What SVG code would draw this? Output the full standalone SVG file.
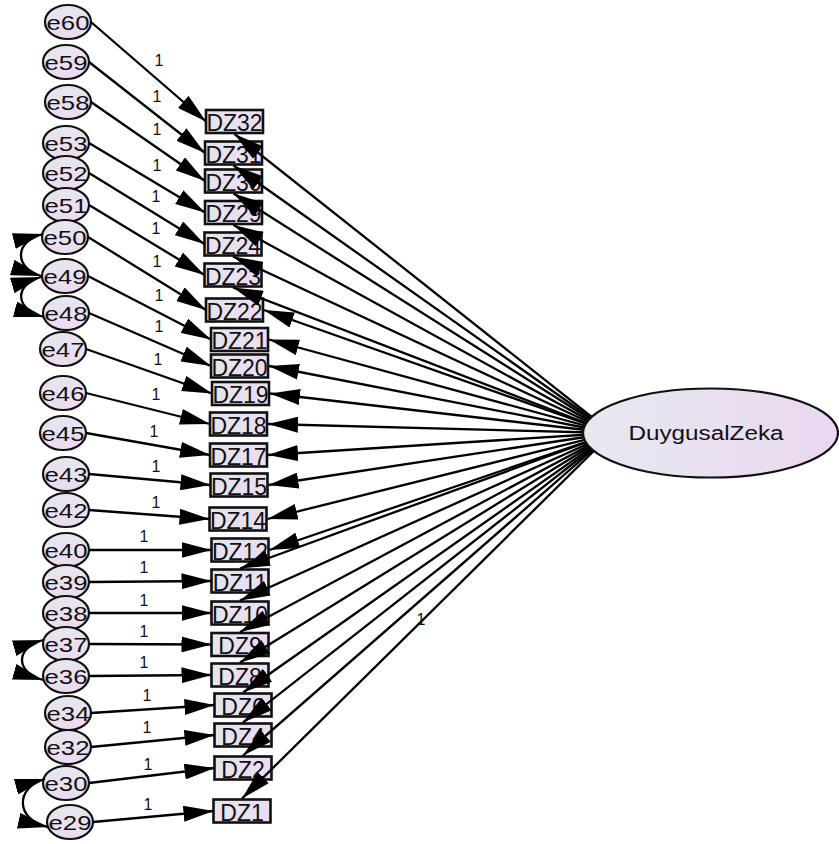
<svg xmlns="http://www.w3.org/2000/svg" width="839" height="844" viewBox="0 0 839 844">
  <defs>
    <linearGradient id="gErr" x1="0" y1="0" x2="0" y2="1">
      <stop offset="0" stop-color="#e6e6ee"/>
      <stop offset="1" stop-color="#ecdaf0"/>
    </linearGradient>
    <linearGradient id="gBox" x1="0" y1="0" x2="1" y2="0">
      <stop offset="0" stop-color="#e4e4ee"/>
      <stop offset="1" stop-color="#ecdcf2"/>
    </linearGradient>
    <linearGradient id="gLat" x1="0" y1="0" x2="1" y2="0">
      <stop offset="0" stop-color="#e8e8f0"/>
      <stop offset="1" stop-color="#ead8f0"/>
    </linearGradient>
    <marker id="arr" markerUnits="userSpaceOnUse" markerWidth="30" markerHeight="16" refX="30" refY="8" orient="auto-start-reverse">
      <path d="M0,0 L30,8 L0,16 z" fill="#000"/>
    </marker>
    <style>
      .err ellipse { fill: url(#gErr); stroke: #111; stroke-width: 2.2; }
      .err text { font-family: "Liberation Sans", Arial, sans-serif; font-size: 21px; fill: #111; text-anchor: middle; }
      .obs rect { fill: url(#gBox); stroke: #111; stroke-width: 2.6; }
      .obs text { font-family: "Liberation Sans", Arial, sans-serif; font-size: 23px; fill: #111; text-anchor: middle; }
      .lat ellipse { fill: url(#gLat); stroke: #111; stroke-width: 2.2; }
      .lat text { font-family: "Liberation Sans", Arial, sans-serif; font-size: 20px; fill: #111; text-anchor: middle; }
      .conn line, .conn path { stroke: #000; stroke-width: 2.3; fill: none; marker-end: url(#arr); }
      .conn path.cov { marker-start: url(#arr); }
      #weights text { font-family: "Liberation Sans", Arial, sans-serif; font-size: 16px; fill: #111; text-anchor: middle; }
    </style>
  </defs>
  <rect width="839" height="844" fill="#fff"/>

  <!-- error terms -->
  <g id="e60" class="err"><ellipse cx="68" cy="22" rx="23" ry="17"/><text x="68" y="29.5" textLength="43" lengthAdjust="spacingAndGlyphs">e60</text></g>
  <g id="e59" class="err"><ellipse cx="66" cy="62" rx="23" ry="17"/><text x="66" y="69.5" textLength="43" lengthAdjust="spacingAndGlyphs">e59</text></g>
  <g id="e58" class="err"><ellipse cx="68" cy="102" rx="23" ry="17"/><text x="68" y="109.5" textLength="43" lengthAdjust="spacingAndGlyphs">e58</text></g>
  <g id="e53" class="err"><ellipse cx="66" cy="143" rx="23" ry="17"/><text x="66" y="150.5" textLength="43" lengthAdjust="spacingAndGlyphs">e53</text></g>
  <g id="e52" class="err"><ellipse cx="66" cy="173" rx="23" ry="17"/><text x="66" y="180.5" textLength="43" lengthAdjust="spacingAndGlyphs">e52</text></g>
  <g id="e51" class="err"><ellipse cx="66" cy="205" rx="23" ry="17"/><text x="66" y="212.5" textLength="43" lengthAdjust="spacingAndGlyphs">e51</text></g>
  <g id="e50" class="err"><ellipse cx="65" cy="237" rx="23" ry="17"/><text x="65" y="244.5" textLength="43" lengthAdjust="spacingAndGlyphs">e50</text></g>
  <g id="e49" class="err"><ellipse cx="65" cy="276" rx="23" ry="17"/><text x="65" y="283.5" textLength="43" lengthAdjust="spacingAndGlyphs">e49</text></g>
  <g id="e48" class="err"><ellipse cx="66" cy="313" rx="23" ry="17"/><text x="66" y="320.5" textLength="43" lengthAdjust="spacingAndGlyphs">e48</text></g>
  <g id="e47" class="err"><ellipse cx="63" cy="349" rx="23" ry="17"/><text x="63" y="356.5" textLength="43" lengthAdjust="spacingAndGlyphs">e47</text></g>
  <g id="e46" class="err"><ellipse cx="63" cy="393" rx="23" ry="17"/><text x="63" y="400.5" textLength="43" lengthAdjust="spacingAndGlyphs">e46</text></g>
  <g id="e45" class="err"><ellipse cx="63" cy="433" rx="23" ry="17"/><text x="63" y="440.5" textLength="43" lengthAdjust="spacingAndGlyphs">e45</text></g>
  <g id="e43" class="err"><ellipse cx="66" cy="474" rx="23" ry="17"/><text x="66" y="481.5" textLength="43" lengthAdjust="spacingAndGlyphs">e43</text></g>
  <g id="e42" class="err"><ellipse cx="66" cy="510" rx="23" ry="17"/><text x="66" y="517.5" textLength="43" lengthAdjust="spacingAndGlyphs">e42</text></g>
  <g id="e40" class="err"><ellipse cx="66" cy="550" rx="23" ry="17"/><text x="66" y="557.5" textLength="43" lengthAdjust="spacingAndGlyphs">e40</text></g>
  <g id="e39" class="err"><ellipse cx="66" cy="582" rx="23" ry="17"/><text x="66" y="589.5" textLength="43" lengthAdjust="spacingAndGlyphs">e39</text></g>
  <g id="e38" class="err"><ellipse cx="66" cy="613" rx="23" ry="17"/><text x="66" y="620.5" textLength="43" lengthAdjust="spacingAndGlyphs">e38</text></g>
  <g id="e37" class="err"><ellipse cx="66" cy="644" rx="23" ry="17"/><text x="66" y="651.5" textLength="43" lengthAdjust="spacingAndGlyphs">e37</text></g>
  <g id="e36" class="err"><ellipse cx="66" cy="676" rx="23" ry="17"/><text x="66" y="683.5" textLength="43" lengthAdjust="spacingAndGlyphs">e36</text></g>
  <g id="e34" class="err"><ellipse cx="68" cy="713" rx="23" ry="17"/><text x="68" y="720.5" textLength="43" lengthAdjust="spacingAndGlyphs">e34</text></g>
  <g id="e32" class="err"><ellipse cx="68" cy="747" rx="23" ry="17"/><text x="68" y="754.5" textLength="43" lengthAdjust="spacingAndGlyphs">e32</text></g>
  <g id="e30" class="err"><ellipse cx="66" cy="783" rx="23" ry="17"/><text x="66" y="790.5" textLength="43" lengthAdjust="spacingAndGlyphs">e30</text></g>
  <g id="e29" class="err"><ellipse cx="70" cy="822" rx="23" ry="17"/><text x="70" y="829.5" textLength="43" lengthAdjust="spacingAndGlyphs">e29</text></g>

  <!-- observed items -->
  <g id="DZ32" class="obs"><rect x="206" y="110" width="57" height="23"/><text x="234.5" y="131">DZ32</text></g>
  <g id="DZ31" class="obs"><rect x="205" y="141.5" width="57" height="23"/><text x="233.5" y="162.5">DZ31</text></g>
  <g id="DZ30" class="obs"><rect x="205" y="169.5" width="57" height="23"/><text x="233.5" y="190.5">DZ30</text></g>
  <g id="DZ29" class="obs"><rect x="205" y="201" width="57" height="23"/><text x="233.5" y="222">DZ29</text></g>
  <g id="DZ24" class="obs"><rect x="204.5" y="232.5" width="57" height="23"/><text x="233" y="253.5">DZ24</text></g>
  <g id="DZ23" class="obs"><rect x="204.5" y="263.5" width="57" height="23"/><text x="233" y="284.5">DZ23</text></g>
  <g id="DZ22" class="obs"><rect x="206" y="298.5" width="57" height="23"/><text x="234.5" y="319.5">DZ22</text></g>
  <g id="DZ21" class="obs"><rect x="211" y="328" width="57" height="23"/><text x="239.5" y="349">DZ21</text></g>
  <g id="DZ20" class="obs"><rect x="211" y="354.5" width="57" height="23"/><text x="239.5" y="375.5">DZ20</text></g>
  <g id="DZ19" class="obs"><rect x="212" y="382" width="57" height="23"/><text x="240.5" y="403">DZ19</text></g>
  <g id="DZ18" class="obs"><rect x="210" y="412.5" width="57" height="23"/><text x="238.5" y="433.5">DZ18</text></g>
  <g id="DZ17" class="obs"><rect x="210" y="443.5" width="57" height="23"/><text x="238.5" y="464.5">DZ17</text></g>
  <g id="DZ15" class="obs"><rect x="210.5" y="473.5" width="57" height="23"/><text x="239" y="494.5">DZ15</text></g>
  <g id="DZ14" class="obs"><rect x="209.5" y="507.5" width="57" height="23"/><text x="238" y="528.5">DZ14</text></g>
  <g id="DZ12" class="obs"><rect x="211.5" y="538.5" width="57" height="23"/><text x="240" y="559.5">DZ12</text></g>
  <g id="DZ11" class="obs"><rect x="211.5" y="569.5" width="57" height="23"/><text x="240" y="590.5">DZ11</text></g>
  <g id="DZ10" class="obs"><rect x="211.5" y="601.5" width="57" height="23"/><text x="240" y="622.5">DZ10</text></g>
  <g id="DZ9" class="obs"><rect x="211.5" y="633" width="57" height="23"/><text x="240" y="654">DZ9</text></g>
  <g id="DZ8" class="obs"><rect x="211.5" y="663.5" width="57" height="23"/><text x="240" y="684.5">DZ8</text></g>
  <g id="DZ6" class="obs"><rect x="214.5" y="693.5" width="57" height="23"/><text x="243" y="714.5">DZ6</text></g>
  <g id="DZ4" class="obs"><rect x="214.5" y="723.5" width="57" height="23"/><text x="243" y="744.5">DZ4</text></g>
  <g id="DZ2" class="obs"><rect x="214.5" y="756.5" width="57" height="23"/><text x="243" y="777.5">DZ2</text></g>
  <g id="DZ1" class="obs"><rect x="213.5" y="799.5" width="57" height="23"/><text x="242" y="820.5">DZ1</text></g>

  <!-- paths, covariances and regression weights -->
  <g id="connectors" class="conn">
    <!-- covariances between error terms -->
    <path class="cov" d="M43,234 C14,241 14,268 41,276"/>
    <path class="cov" d="M41,277 C14,285 14,309 44,317"/>
    <path class="cov" d="M43,640 C15,648 15,672 43,680"/>
    <path class="cov" d="M45,779 C15,787 15,820 48,827"/>

    <!-- error terms to items -->
    <line x1="91" y1="22" x2="206" y2="121.5"/>
    <line x1="89" y1="62" x2="205" y2="153"/>
    <line x1="91" y1="102" x2="205" y2="181"/>
    <line x1="89" y1="143" x2="205" y2="212.5"/>
    <line x1="89" y1="173" x2="204.5" y2="244"/>
    <line x1="89" y1="205" x2="204.5" y2="275"/>
    <line x1="88" y1="237" x2="206" y2="310"/>
    <line x1="88" y1="276" x2="211" y2="339.5"/>
    <line x1="89" y1="313" x2="211" y2="366"/>
    <line x1="86" y1="349" x2="212" y2="393.5"/>
    <line x1="86" y1="393" x2="210" y2="424"/>
    <line x1="86" y1="433" x2="210" y2="455"/>
    <line x1="89" y1="474" x2="210.5" y2="485"/>
    <line x1="89" y1="510" x2="209.5" y2="519"/>
    <line x1="89" y1="550" x2="211.5" y2="550"/>
    <line x1="89" y1="582" x2="211.5" y2="581"/>
    <line x1="89" y1="613" x2="211.5" y2="613"/>
    <line x1="89" y1="644" x2="211.5" y2="644.5"/>
    <line x1="89" y1="676" x2="211.5" y2="675"/>
    <line x1="91" y1="713" x2="214.5" y2="705"/>
    <line x1="91" y1="747" x2="214.5" y2="735"/>
    <line x1="89" y1="783" x2="214.5" y2="768"/>
    <line x1="93" y1="822" x2="213.5" y2="811"/>

    <!-- factor to items -->
    <line x1="612" y1="433" x2="234.5" y2="134"/>
    <line x1="612" y1="433" x2="233.5" y2="165.5"/>
    <line x1="612" y1="433" x2="233.5" y2="193.5"/>
    <line x1="612" y1="433" x2="233.5" y2="225"/>
    <line x1="612" y1="433" x2="233" y2="256.5"/>
    <line x1="612" y1="433" x2="233" y2="287.5"/>
    <line x1="612" y1="433" x2="264" y2="310"/>
    <line x1="612" y1="433" x2="269" y2="339.5"/>
    <line x1="612" y1="433" x2="269" y2="366"/>
    <line x1="612" y1="433" x2="270" y2="393.5"/>
    <line x1="612" y1="433" x2="268" y2="424"/>
    <line x1="612" y1="433" x2="268" y2="455"/>
    <line x1="612" y1="433" x2="268.5" y2="485"/>
    <line x1="612" y1="433" x2="267.5" y2="519"/>
    <line x1="612" y1="433" x2="269.5" y2="550"/>
    <line x1="612" y1="433" x2="240" y2="568.5"/>
    <line x1="612" y1="433" x2="240" y2="600.5"/>
    <line x1="612" y1="433" x2="240" y2="632"/>
    <line x1="612" y1="433" x2="240" y2="662.5"/>
    <line x1="612" y1="433" x2="243" y2="692.5"/>
    <line x1="612" y1="433" x2="243" y2="722.5"/>
    <line x1="612" y1="433" x2="243" y2="755.5"/>
    <line x1="612" y1="433" x2="242" y2="798.5"/>
  </g>

  <!-- fixed weights -->
  <g id="weights">
    <text x="159" y="66">1</text>
    <text x="157" y="102">1</text>
    <text x="157" y="135">1</text>
    <text x="157" y="171">1</text>
    <text x="156" y="202">1</text>
    <text x="156" y="234">1</text>
    <text x="157" y="267">1</text>
    <text x="159" y="301">1</text>
    <text x="159" y="332">1</text>
    <text x="158" y="365">1</text>
    <text x="156" y="400">1</text>
    <text x="154" y="437">1</text>
    <text x="156" y="472">1</text>
    <text x="156" y="508">1</text>
    <text x="144" y="542">1</text>
    <text x="144" y="573">1</text>
    <text x="144" y="606">1</text>
    <text x="144" y="637">1</text>
    <text x="144" y="668">1</text>
    <text x="147" y="701">1</text>
    <text x="147" y="733">1</text>
    <text x="148" y="770">1</text>
    <text x="148" y="810">1</text>
    <text x="421" y="625">1</text>
  </g>

  <!-- latent factor -->
  <g id="DuygusalZeka" class="lat">
    <ellipse cx="710.5" cy="433" rx="127.5" ry="44.5"/>
    <text x="706" y="440" textLength="155" lengthAdjust="spacingAndGlyphs">DuygusalZeka</text>
  </g>
</svg>
